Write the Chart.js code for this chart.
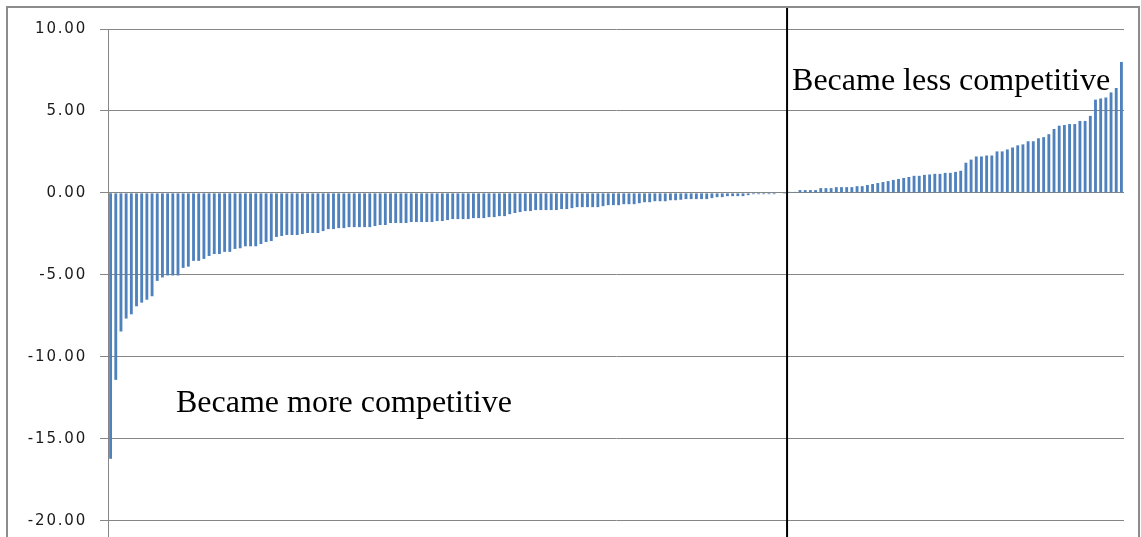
<!DOCTYPE html>
<html>
<head>
<meta charset="utf-8">
<script src="https://cdn.jsdelivr.net/npm/chart.js@4/dist/chart.umd.min.js"></script>
<style>
html,body{margin:0;padding:0;background:#ffffff;}
canvas{display:block;}
</style>
</head>
<body>
<canvas id="c" width="1141" height="537" style="width:1141px;height:537px"></canvas>
<script>
// Change in competitiveness, sorted (negative = became more competitive)
const moreCompetitive = [
  -16.23, -11.41, -8.46, -7.67, -7.41, -6.92, -6.7, -6.52, -6.31, -5.37,
  -5.16, -5.04, -5.04, -5.04, -4.58, -4.5, -4.15, -4.15, -4.03, -3.85,
  -3.73, -3.73, -3.6, -3.6, -3.42, -3.38, -3.26, -3.26, -3.26, -3.12,
  -3.0, -2.94, -2.69, -2.63, -2.57, -2.57, -2.57, -2.51, -2.45, -2.45,
  -2.45, -2.33, -2.21, -2.21, -2.15, -2.15, -2.09, -2.09, -2.09, -2.09,
  -2.09, -2.02, -1.96, -1.96, -1.84, -1.84, -1.84, -1.84, -1.78, -1.78,
  -1.78, -1.78, -1.78, -1.72, -1.72, -1.66, -1.6, -1.6, -1.6, -1.6,
  -1.54, -1.54, -1.54, -1.48, -1.48, -1.42, -1.42, -1.3, -1.23, -1.17,
  -1.11, -1.11, -1.05, -1.05, -1.05, -1.05, -1.05, -0.99, -0.99, -0.93,
  -0.87, -0.87, -0.87, -0.87, -0.87, -0.81, -0.75, -0.75, -0.75, -0.69,
  -0.69, -0.69, -0.63, -0.57, -0.57, -0.51, -0.51, -0.51, -0.45, -0.45,
  -0.42, -0.38, -0.38, -0.38, -0.38, -0.38, -0.32, -0.26, -0.26, -0.2,
  -0.2, -0.2, -0.2, -0.14, -0.08, -0.08, -0.08, -0.08, -0.08, -0.03,
  -0.01
];
const lessCompetitive = [
  0.06, 0.06, 0.17, 0.17, 0.17, 0.17, 0.29, 0.29, 0.29, 0.35,
  0.35, 0.35, 0.35, 0.41, 0.41, 0.48, 0.54, 0.6, 0.66, 0.72,
  0.79, 0.85, 0.91, 0.97, 1.04, 1.04, 1.1, 1.12, 1.16, 1.16,
  1.22, 1.22, 1.28, 1.35, 1.84, 2.03, 2.22, 2.22, 2.28, 2.28,
  2.53, 2.53, 2.65, 2.77, 2.9, 2.96, 3.15, 3.15, 3.33, 3.4,
  3.58, 3.9, 4.1, 4.14, 4.2, 4.2, 4.39, 4.39, 4.7, 5.69,
  5.76, 5.82, 6.13, 6.4, 7.99
];
const yTicks = [-20, -15, -10, -5, 0, 5, 10];
const labelMore = 'Became more competitive';
const labelLess = 'Became less competitive';

const values = moreCompetitive.concat(lessCompetitive);
const categories = values.map((v, i) => String(i + 1));

const overlay = {
  id: 'overlay',
  beforeDraw(chart) {
    chart.ctx.letterSpacing = '1.8px';
  },
  afterDraw(chart) {
    const ctx = chart.ctx;
    const xs = chart.scales.x;
    const ys = chart.scales.y;
    ctx.save();
    ctx.letterSpacing = '0px';
    // outer frame
    ctx.strokeStyle = '#8c8c8c';
    ctx.lineWidth = 2;
    ctx.beginPath();
    ctx.moveTo(7, 545); ctx.lineTo(7, 7); ctx.lineTo(1139, 7); ctx.lineTo(1139, 545);
    ctx.stroke();
    // divider between the two groups
    const n = moreCompetitive.length;
    const xd = (xs.getPixelForValue(n - 1) + xs.getPixelForValue(n)) / 2;
    ctx.strokeStyle = '#000000';
    ctx.lineWidth = 2;
    ctx.beginPath();
    ctx.moveTo(xd, 8); ctx.lineTo(xd, chart.height);
    ctx.stroke();
    // annotations
    ctx.fillStyle = '#000000';
    ctx.font = '32px "Liberation Serif", "Times New Roman", serif';
    ctx.textBaseline = 'alphabetic';
    ctx.textAlign = 'left';
    ctx.fillText(labelMore, 176, ys.getPixelForValue(-13.4));
    ctx.fillText(labelLess, xd + 5, ys.getPixelForValue(6.25));
    ctx.restore();
  }
};

new Chart(document.getElementById('c'), {
  type: 'bar',
  data: {
    labels: categories,
    datasets: [{
      data: values,
      backgroundColor: '#4f81bd',
      borderWidth: 0,
      barPercentage: 0.55,
      categoryPercentage: 1.0
    }]
  },
  options: {
    responsive: false,
    animation: false,
    devicePixelRatio: 1,
    layout: { padding: { top: 29, right: 17, bottom: 0, left: 0 } },
    plugins: { legend: { display: false }, tooltip: { enabled: false } },
    scales: {
      x: {
        type: 'category',
        display: false,
        offset: true,
        grid: { display: false }
      },
      y: {
        min: -21,
        max: 10,
        afterBuildTicks(s) { s.ticks = yTicks.map(v => ({ value: v })); },
        afterFit(s) { s.width = 108; s.paddingTop = 0; s.paddingBottom = 0; },
        ticks: {
          callback: v => Number(v).toFixed(2),
          font: { family: 'DejaVu Sans', size: 15 },
          color: '#1a1a1a',
          padding: 13
        },
        grid: { color: '#868686', lineWidth: 1, tickLength: 8, drawTicks: true },
        border: { display: true, color: '#868686', width: 1 }
      }
    }
  },
  plugins: [overlay]
});
</script>
</body>
</html>
